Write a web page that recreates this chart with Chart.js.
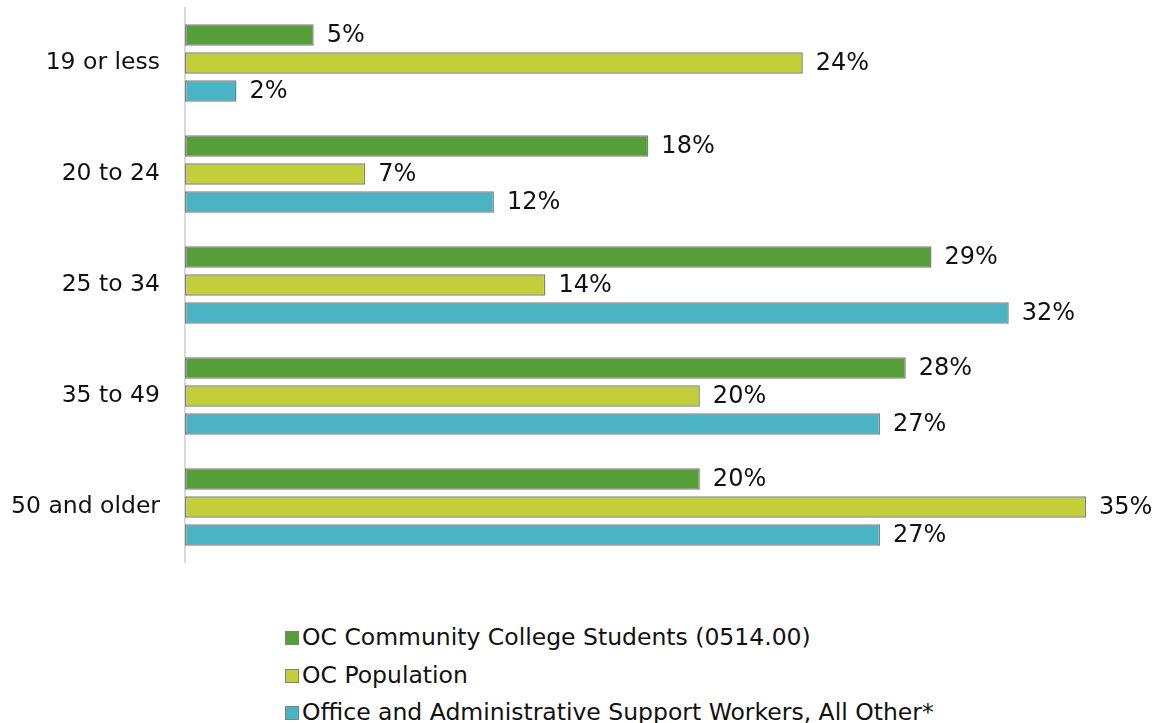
<!DOCTYPE html>
<html>
<head>
<meta charset="utf-8">
<script src="https://cdn.jsdelivr.net/npm/chart.js@4"></script>
<style>
    html, body { margin: 0; padding: 0; background: #fff; }
    #wrap { position: relative; width: 1165px; height: 723px; font-family: "DejaVu Sans", sans-serif; }
    #chartBox { position: absolute; left: 0; top: 0; width: 1165px; height: 580px; }
    #legend { position: absolute; left: 285px; top: 620px; margin: 0; padding: 0; list-style: none; }
    #legend li { height: 37.5px; line-height: 34px; font-size: 23.5px; color: #111; white-space: nowrap; }
    #legend span.box { display: inline-block; width: 12px; height: 12px; border: 1.5px solid #808080; margin-right: 3px; vertical-align: 0px; }
</style>
</head>
<body>
<div id="wrap">
    <div id="chartBox"><canvas id="ageChart"></canvas></div>
    <ul id="legend"></ul>
</div>
<script>
// Age groups and share of each group (percent)
const faixas = ['19 or less', '20 to 24', '25 to 34', '35 to 49', '50 and older'];
const alunos = [5, 18, 29, 28, 20];
const populacao = [24, 7, 14, 20, 35];
const trabalhadores = [2, 12, 32, 27, 27];

const nomesSeries = [
    'OC Community College Students (0514.00)',
    'OC Population',
    'Office and Administrative Support Workers, All Other*'
];
const cores = ['#559e3a', '#c3cf3a', '#4ab4c4'];

const fonte = '"DejaVu Sans", sans-serif';

// draws the "xx%" text to the right of each bar
const rotulosBarras = {
    id: 'rotulosBarras',
    afterDatasetsDraw(chart) {
        const ctx = chart.ctx;
        ctx.save();
        ctx.font = '24px ' + fonte;
        ctx.fillStyle = '#111';
        ctx.textAlign = 'left';
        ctx.textBaseline = 'middle';
        chart.data.datasets.forEach((ds, i) => {
            chart.getDatasetMeta(i).data.forEach((bar, j) => {
                ctx.fillText(ds.data[j] + '%', bar.x + 13, bar.y + 1);
            });
        });
        ctx.restore();
    }
};

let datasets = [alunos, populacao, trabalhadores].map((valores, i) => ({
    label: nomesSeries[i],
    data: valores,
    backgroundColor: cores[i],
    borderColor: '#808080',
    borderWidth: 1.5,
    borderSkipped: false,
    categoryPercentage: 0.757,
    barPercentage: 0.76
}));

const chart = new Chart(document.getElementById('ageChart'), {
    type: 'bar',
    data: { labels: faixas, datasets: datasets },
    options: {
        indexAxis: 'y',
        responsive: true,
        maintainAspectRatio: false,
        animation: false,
        layout: { padding: { top: 7.5, bottom: 17.5, left: 0, right: 79 } },
        plugins: {
            legend: { display: false },
            tooltip: { enabled: false }
        },
        scales: {
            x: {
                display: false,
                min: 0,
                max: 35
            },
            y: {
                grid: { display: false, drawTicks: true, tickLength: 25 },
                border: { display: true, color: '#d9d9d9', width: 2 },
                ticks: {
                    color: '#111',
                    padding: 0,
                    font: { family: fonte, size: 23.5 }
                },
                afterFit(scale) {
                    scale.width = 185;
                    // no extra room above/below for the tick text
                    scale.paddingTop = 0;
                    scale.paddingBottom = 0;
                }
            }
        }
    },
    plugins: [rotulosBarras]
});

// legend as a plain vertical list under the chart
const legenda = document.getElementById('legend');
nomesSeries.forEach((nome, i) => {
    let li = document.createElement('li');
    let box = document.createElement('span');
    box.className = 'box';
    box.style.background = cores[i];
    li.appendChild(box);
    li.appendChild(document.createTextNode(nome));
    legenda.appendChild(li);
});
</script>
</body>
</html>
